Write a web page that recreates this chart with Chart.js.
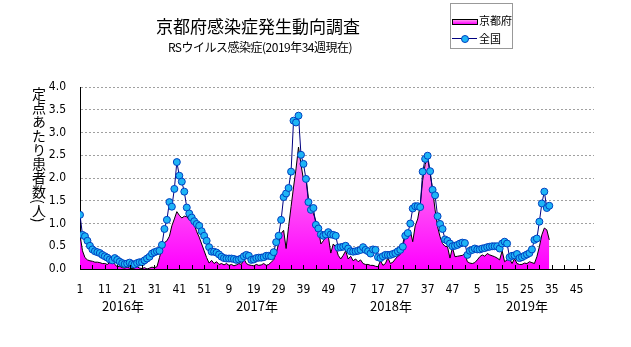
<!DOCTYPE html>
<html lang="ja">
<head>
<meta charset="utf-8">
<title>RSウイルス感染症</title>
<script src="https://cdn.jsdelivr.net/npm/chart.js@4.4.1/dist/chart.umd.min.js"></script>
<style>
  body { margin: 0; background: #fff; }
  #wrap { position: relative; width: 631px; height: 347px; overflow: hidden;
          font-family: "Noto Sans CJK JP", "Noto Sans", sans-serif; color: #000; }
  #wrap canvas { position: absolute; left: 0; top: 0; }
  .txt { position: absolute; white-space: nowrap; line-height: 1; }
  #titre { left: 0; width: 516px; top: 17px; font-size: 17px; text-align: center; }
  #sous-titre { left: 0; width: 520px; top: 41px; font-size: 12px; letter-spacing: -0.5px; text-align: center; }
  #axe-y { left: 32px; top: 87px; font-size: 14px; line-height: 14px;
           writing-mode: vertical-rl; text-orientation: mixed; }
  .annee { top: 299px; font-size: 13px; transform: translateX(-50%); }
  #legende { position: absolute; left: 450px; top: 3px; width: 61px; height: 44px;
             border: 1px solid #999; background: #fff; }
  #legende .txt { font-size: 11px; left: 28px; }
  .ech-kyoto { position: absolute; left: 1px; top: 15px; width: 24px; height: 4px;
               border: 1px solid #000; background: linear-gradient(#ff90f0, #ff00ff); }
  .ech-ligne { position: absolute; left: 1px; top: 34px; width: 25px; height: 1px; background: #000080; }
  .ech-point { position: absolute; left: 10px; top: 31px; width: 6px; height: 6px; border-radius: 50%;
               background: #1eb4f5; border: 1px solid #0040c0; }
</style>
</head>
<body>
<div id="wrap">
  <canvas id="graphe" width="631" height="347"></canvas>
  <div class="txt" id="titre">京都府感染症発生動向調査</div>
  <div class="txt" id="sous-titre">RSウイルス感染症(2019年34週現在)</div>
  <div class="txt" id="axe-y">定点あたり患者数(人)</div>
  <div id="annees"></div>
  <div id="legende">
    <div class="ech-kyoto"></div>
    <div class="txt" style="top:11px">京都府</div>
    <div class="ech-ligne"></div>
    <div class="ech-point"></div>
    <div class="txt" style="top:29px">全国</div>
  </div>
</div>
<script>
// Données (une valeur par semaine)
const kyoto2016 = [0.75, 0.40, 0.25, 0.20, 0.18, 0.17, 0.15, 0.15, 0.14, 0.12,
                   0.12, 0.10, 0.14, 0.20, 0.10, 0.05, 0.06, 0.03, 0.02, 0.04,
                   0.02, 0.01, 0.02, 0.05, 0.02, 0.01, 0.03, 0.00, 0.02, 0.04,
                   0.03, 0.05, 0.25, 0.45, 0.58, 0.62, 0.72, 0.95, 1.10, 1.26,
                   1.18, 1.12, 1.16, 1.15, 1.08, 1.12, 0.98, 0.82, 0.70, 0.55,
                   0.40, 0.25];
const kyoto2017 = [0.13, 0.19, 0.12, 0.16, 0.10, 0.12, 0.09, 0.12, 0.08, 0.10,
                   0.07, 0.09, 0.12, 0.10, 0.23, 0.12, 0.09, 0.08, 0.07, 0.10,
                   0.08, 0.09, 0.12, 0.08, 0.10, 0.15, 0.20, 0.34, 0.56, 0.78,
                   0.85, 0.45, 0.93, 1.37, 1.80, 2.20, 2.68, 2.30, 1.96, 2.03,
                   1.55, 1.37, 1.22, 1.05, 0.90, 0.55, 0.62, 0.70, 0.72, 0.35,
                   0.55, 0.48];
const kyoto2018 = [0.30, 0.22, 0.30, 0.40, 0.22, 0.28, 0.18, 0.22, 0.16, 0.20,
                   0.12, 0.10, 0.10, 0.08, 0.08, 0.06, 0.05, 0.18, 0.08, 0.12,
                   0.25, 0.12, 0.15, 0.22, 0.28, 0.32, 0.55, 0.80, 0.72, 0.85,
                   0.60, 0.95, 1.10, 1.40, 1.95, 2.30, 2.43, 2.10, 1.74, 1.30,
                   0.93, 0.71, 0.56, 0.50, 0.49, 0.24, 0.47, 0.27, 0.28, 0.29,
                   0.30, 0.34];
const kyoto2019 = [0.16, 0.13, 0.12, 0.14, 0.20, 0.27, 0.31, 0.28, 0.34, 0.31,
                   0.29, 0.27, 0.24, 0.20, 0.40, 0.16, 0.20, 0.22, 0.12, 0.23,
                   0.12, 0.10, 0.10, 0.13, 0.12, 0.16, 0.14, 0.12, 0.27, 0.49,
                   0.75, 0.90, 0.86, 0.64];

const zenkoku2016 = [1.19, 0.75, 0.72, 0.62, 0.51, 0.43, 0.39, 0.37, 0.35, 0.31,
                     0.28, 0.25, 0.21, 0.19, 0.24, 0.20, 0.16, 0.13, 0.11, 0.12,
                     0.14, 0.11, 0.10, 0.13, 0.15, 0.15, 0.19, 0.23, 0.27, 0.34,
                     0.37, 0.39, 0.40, 0.53, 0.88, 1.08, 1.47, 1.37, 1.76, 2.35,
                     2.05, 1.92, 1.70, 1.35, 1.22, 1.13, 1.05, 0.99, 0.95, 0.83,
                     0.73, 0.62];
const zenkoku2017 = [0.48, 0.38, 0.38, 0.36, 0.32, 0.27, 0.24, 0.23, 0.23, 0.23,
                     0.22, 0.20, 0.21, 0.23, 0.28, 0.31, 0.29, 0.20, 0.21, 0.24,
                     0.25, 0.25, 0.26, 0.29, 0.29, 0.28, 0.37, 0.59, 0.73, 1.08,
                     1.58, 1.66, 1.78, 2.14, 3.26, 3.22, 3.37, 2.51, 2.31, 1.98,
                     1.47, 1.30, 1.34, 0.97, 0.89, 0.76, 0.73, 0.76, 0.81, 0.76,
                     0.75, 0.73];
const zenkoku2018 = [0.47, 0.48, 0.49, 0.51, 0.45, 0.39, 0.38, 0.39, 0.40, 0.42,
                     0.48, 0.42, 0.39, 0.34, 0.43, 0.42, 0.26, 0.24, 0.28, 0.31,
                     0.31, 0.31, 0.33, 0.35, 0.39, 0.42, 0.49, 0.73, 0.79, 1.00,
                     1.33, 1.38, 1.38, 1.36, 2.14, 2.42, 2.49, 2.15, 1.74, 1.62,
                     1.16, 0.99, 0.88, 0.65, 0.62, 0.56, 0.50, 0.51, 0.53, 0.56,
                     0.58, 0.57];
const zenkoku2019 = [0.31, 0.40, 0.42, 0.45, 0.43, 0.43, 0.45, 0.46, 0.48, 0.49,
                     0.50, 0.50, 0.50, 0.45, 0.56, 0.60, 0.56, 0.26, 0.29, 0.30,
                     0.33, 0.24, 0.26, 0.29, 0.32, 0.35, 0.43, 0.64, 0.67, 1.04,
                     1.44, 1.70, 1.34, 1.39];

// Étiquettes de l'axe des semaines (une tous les 10 points)
const xTickLabels = ['1', '11', '21', '31', '41', '51', '9', '19', '29', '39', '49',
                     '7', '17', '27', '37', '47', '5', '15', '25', '35', '45'];
const annees = ['2016年', '2017年', '2018年', '2019年'];
const anneesX = [123, 257, 391, 527];

const xMax = 207; // 4 années de 52 semaines

const kyoto = [...kyoto2016, ...kyoto2017, ...kyoto2018, ...kyoto2019];
const zenkoku = [...zenkoku2016, ...zenkoku2017, ...zenkoku2018, ...zenkoku2019];
const toPoints = arr => arr.map((v, i) => ({ x: i, y: v }));

// Libellés des années sous l'axe
const boiteAnnees = document.getElementById('annees');
annees.forEach((a, i) => {
  const d = document.createElement('div');
  d.className = 'txt annee';
  d.style.left = anneesX[i] + 'px';
  d.textContent = a;
  boiteAnnees.appendChild(d);
});

// Petites graduations vers l'intérieur, toutes les 5 semaines
const graduations = {
  id: 'graduations',
  afterDatasetsDraw(chart) {
    const { ctx, chartArea, scales: { x } } = chart;
    ctx.save();
    ctx.strokeStyle = '#000';
    ctx.lineWidth = 1;
    ctx.beginPath();
    for (let w = 0; w <= xMax; w += 5) {
      const px = Math.round(x.getPixelForValue(w)) + 0.5;
      ctx.moveTo(px, chartArea.bottom);
      ctx.lineTo(px, chartArea.bottom - 4);
    }
    ctx.stroke();
    ctx.restore();
  }
};

function rosePlein(context) {
  const { ctx, chartArea } = context.chart;
  if (!chartArea) return '#ff00ff';
  const g = ctx.createLinearGradient(0, chartArea.bottom, 0, chartArea.top);
  g.addColorStop(0, '#ff00ff');
  g.addColorStop(0.65, '#ff8cf0');
  g.addColorStop(1, '#ffb4ff');
  return g;
}

const policeTicks = { family: '"Liberation Sans Narrow", "DejaVu Sans Condensed", sans-serif', size: 12 };

new Chart(document.getElementById('graphe'), {
  type: 'line',
  data: {
    datasets: [
      {
        label: '全国',
        data: toPoints(zenkoku),
        borderColor: '#000080',
        borderWidth: 1,
        pointRadius: 3.5,
        pointBackgroundColor: '#1eb4f5',
        pointBorderColor: '#0040c0',
        pointBorderWidth: 1,
        fill: false,
        tension: 0,
        order: 1
      },
      {
        label: '京都府',
        data: toPoints(kyoto),
        borderColor: '#000',
        borderWidth: 1,
        pointRadius: 0,
        fill: 'origin',
        backgroundColor: rosePlein,
        tension: 0,
        order: 2
      }
    ]
  },
  options: {
    responsive: false,
    animation: false,
    layout: { padding: { left: 0, right: 37, top: 87, bottom: 0 } },
    plugins: {
      legend: { display: false },
      tooltip: { enabled: false },
      title: { display: false }
    },
    scales: {
      x: {
        type: 'linear',
        min: 0,
        max: xMax,
        afterFit(s) { s.height = 78; },
        grid: { display: false },
        border: { color: '#000', width: 1 },
        ticks: {
          stepSize: 5,
          autoSkip: false,
          maxRotation: 0,
          padding: 6,
          color: '#000',
          font: policeTicks,
          callback: v => (v % 10 === 0 && v / 10 < xTickLabels.length) ? xTickLabels[v / 10] : ''
        }
      },
      y: {
        min: 0,
        max: 4,
        afterFit(s) { s.width = 80; },
        grid: { color: '#a0a0a0', drawTicks: false },
        border: { color: '#000', width: 1, dash: [2, 2] },
        ticks: {
          stepSize: 0.5,
          padding: 14,
          color: '#000',
          font: policeTicks,
          callback: v => v.toFixed(1)
        }
      }
    }
  },
  plugins: [graduations]
});
</script>
</body>
</html>
